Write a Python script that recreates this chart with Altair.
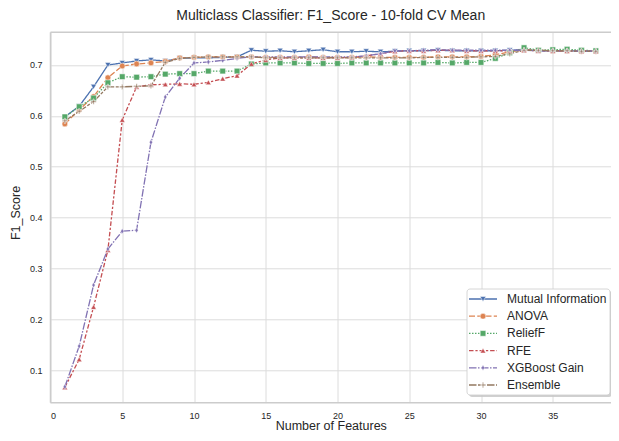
import altair as alt
import pandas as pd

features = list(range(1, 39))

mutual_information = [0.598, 0.619, 0.657, 0.700, 0.704, 0.708, 0.710, 0.708, 0.713, 0.714,
                      0.714, 0.715, 0.716, 0.729, 0.727, 0.728, 0.726, 0.728, 0.730, 0.726,
                      0.726, 0.727, 0.726, 0.727, 0.728, 0.728, 0.729, 0.728, 0.728, 0.728,
                      0.728, 0.729, 0.730, 0.728, 0.728, 0.728, 0.727, 0.727]
anova = [0.584, 0.612, 0.638, 0.675, 0.698, 0.702, 0.704, 0.707, 0.714, 0.715,
         0.716, 0.716, 0.716, 0.716, 0.715, 0.715, 0.715, 0.716, 0.715, 0.715,
         0.715, 0.716, 0.715, 0.715, 0.715, 0.715, 0.716, 0.716, 0.716, 0.717,
         0.720, 0.726, 0.729, 0.729, 0.728, 0.728, 0.727, 0.727]
relieff = [0.598, 0.618, 0.635, 0.665, 0.677, 0.676, 0.677, 0.682, 0.683, 0.683,
           0.688, 0.688, 0.688, 0.702, 0.704, 0.704, 0.704, 0.703, 0.703, 0.703,
           0.704, 0.704, 0.704, 0.704, 0.704, 0.704, 0.705, 0.704, 0.705, 0.705,
           0.713, 0.724, 0.734, 0.729, 0.730, 0.731, 0.729, 0.728]
rfe = [0.066, 0.121, 0.224, 0.336, 0.592, 0.657, 0.661, 0.662, 0.663, 0.662,
       0.666, 0.673, 0.679, 0.702, 0.710, 0.714, 0.714, 0.714, 0.714, 0.714,
       0.715, 0.718, 0.722, 0.727, 0.728, 0.728, 0.729, 0.729, 0.728, 0.728,
       0.728, 0.728, 0.729, 0.728, 0.728, 0.728, 0.727, 0.727]
xgboost_gain = [0.067, 0.147, 0.267, 0.338, 0.373, 0.375, 0.548, 0.637, 0.674, 0.704,
                0.706, 0.709, 0.713, 0.716, 0.716, 0.716, 0.716, 0.716, 0.716, 0.716,
                0.716, 0.718, 0.722, 0.728, 0.728, 0.729, 0.730, 0.729, 0.729, 0.729,
                0.729, 0.729, 0.729, 0.728, 0.728, 0.728, 0.727, 0.727]
ensemble = [0.590, 0.609, 0.628, 0.657, 0.657, 0.658, 0.659, 0.705, 0.713, 0.715,
            0.716, 0.716, 0.716, 0.716, 0.714, 0.714, 0.714, 0.714, 0.714, 0.714,
            0.714, 0.714, 0.714, 0.714, 0.714, 0.715, 0.715, 0.715, 0.715, 0.716,
            0.717, 0.722, 0.729, 0.729, 0.728, 0.728, 0.727, 0.727]

methods = ["Mutual Information", "ANOVA", "ReliefF", "RFE", "XGBoost Gain", "Ensemble"]
series = [mutual_information, anova, relieff, rfe, xgboost_gain, ensemble]

colors = ["#4C72B0", "#DD8452", "#55A868", "#C44E52", "#8172B3", "#937860"]
dashes = [[1, 0], [6, 2.25], [1.5, 1.5], [4.5, 1.9, 2.25, 1.9], [7.5, 1.5, 1.5, 1.5],
          [7.5, 1.5, 3, 1.5, 3, 1.5]]
shapes = ["triangle-down", "circle", "square", "triangle-up",
          "M0,-1L0.6,0L0,1L-0.6,0Z",
          "M-1,-0.22H-0.22V-1H0.22V-0.22H1V0.22H0.22V1H-0.22V0.22H-1Z"]
sizes = [34, 28, 30, 34, 40, 40]

rows = []
for m, vals in zip(methods, series):
    for n, v in zip(features, vals):
        rows.append({"method": m, "features": n, "score": v})
df = pd.DataFrame(rows)

FONT = "Liberation Sans"
TXT = "#262626"
SPINE = "#cccccc"
W, H = 560.5, 370.4
XMAX = 560.5 / 14.35

color_s = alt.Scale(domain=methods, range=colors)
dash_s = alt.Scale(domain=methods, range=dashes)
shape_s = alt.Scale(domain=methods, range=shapes)
size_s = alt.Scale(domain=methods, range=sizes)

x_enc = alt.X("features:Q", scale=alt.Scale(domain=[0, XMAX], nice=False, zero=False),
              axis=alt.Axis(values=[0, 5, 10, 15, 20, 25, 30, 35], title="Number of Features",
                            format="d", titleBaseline="alphabetic", titleY=27))
y_enc = alt.Y("score:Q", scale=alt.Scale(domain=[0.0357, 0.7643], nice=False, zero=False),
              axis=alt.Axis(values=[0.1, 0.2, 0.3, 0.4, 0.5, 0.6, 0.7], title="F1_Score",
                            format=".1f", titleBaseline="alphabetic", titleX=-31.2,
                            titleY=180.2, titleAngle=270, titleAlign="center"))

one = pd.DataFrame({"a": [0]})
spines = [
    alt.Chart(one).mark_rule(color=SPINE, strokeWidth=1.5).encode(
        x=alt.value(0), x2=alt.value(W), y=alt.value(0)),
    alt.Chart(one).mark_rule(color=SPINE, strokeWidth=1.5).encode(
        x=alt.value(0), x2=alt.value(W), y=alt.value(H)),
    alt.Chart(one).mark_rule(color=SPINE, strokeWidth=1.5).encode(
        x=alt.value(0), y=alt.value(0), y2=alt.value(H)),
]

base = alt.Chart(df)
lines = base.mark_line(strokeWidth=1.3).encode(
    x=x_enc, y=y_enc,
    color=alt.Color("method:N", scale=color_s, legend=None),
    strokeDash=alt.StrokeDash("method:N", scale=dash_s, legend=None),
    detail="method:N",
)
points = base.mark_point(filled=True, opacity=1, stroke="white", strokeWidth=0.5).encode(
    x=x_enc, y=y_enc,
    color=alt.Color("method:N", scale=color_s, legend=None),
    shape=alt.Shape("method:N", scale=shape_s, legend=None),
    size=alt.Size("method:N", scale=size_s, legend=None),
)

# legend (inside, lower right)
LX = 416.5
leg = pd.DataFrame({"method": methods, "idx": list(range(len(methods)))})
leg_base = alt.Chart(leg).transform_calculate(ly="266.7 + datum.idx * 17.2")
box_shadow = alt.Chart(one).mark_rect(fill="#c4c4c4", cornerRadius=3, opacity=0.8).encode(
    x=alt.value(LX + 2), x2=alt.value(LX + 145), y=alt.value(258.7), y2=alt.value(364.7))
box = alt.Chart(one).mark_rect(fill="white", stroke=SPINE, strokeWidth=0.8,
                                cornerRadius=3).encode(
    x=alt.value(LX), x2=alt.value(LX + 143), y=alt.value(256.7), y2=alt.value(362.7))
leg_lines = leg_base.mark_rule(strokeWidth=1.3).encode(
    x=alt.value(LX + 2), x2=alt.value(LX + 30),
    y=alt.Y("ly:Q", scale=None, axis=None),
    color=alt.Color("method:N", scale=color_s, legend=None),
    strokeDash=alt.StrokeDash("method:N", scale=dash_s, legend=None),
)
leg_pts = leg_base.mark_point(filled=True, opacity=1, stroke="white", strokeWidth=0.5).encode(
    x=alt.value(LX + 16),
    y=alt.Y("ly:Q", scale=None, axis=None),
    color=alt.Color("method:N", scale=color_s, legend=None),
    shape=alt.Shape("method:N", scale=shape_s, legend=None),
    size=alt.Size("method:N", scale=size_s, legend=None),
)
leg_txt = leg_base.mark_text(align="left", baseline="middle", font=FONT, fontSize=12,
                             color=TXT).encode(
    x=alt.value(LX + 40),
    y=alt.Y("ly:Q", scale=None, axis=None),
    text="method:N",
)

chart = alt.layer(*spines, lines, points, box_shadow, box, leg_lines, leg_pts, leg_txt).properties(
    width=W, height=H,
    title=alt.TitleParams("Multiclass Classifier: F1_Score - 10-fold CV Mean",
                          font=FONT, fontSize=14, fontWeight="normal", color=TXT,
                          anchor="middle", offset=9),
    autosize=alt.AutoSizeParams(type="none"),
    padding={"left": 42.5, "top": 24.3, "right": 0, "bottom": 30.3},
).configure_view(
    stroke=None
).configure_axis(
    grid=True, gridColor="#dcdcdc", gridWidth=1, ticks=False, domain=False,
    labelFont=FONT, labelFontSize=9, labelColor=TXT, labelPadding=8.5,
    titleFont=FONT, titleFontSize=12.5, titleColor=TXT, titleFontWeight="normal",
)

chart.save("out.html", embed_options={"renderer": "svg", "actions": False})
